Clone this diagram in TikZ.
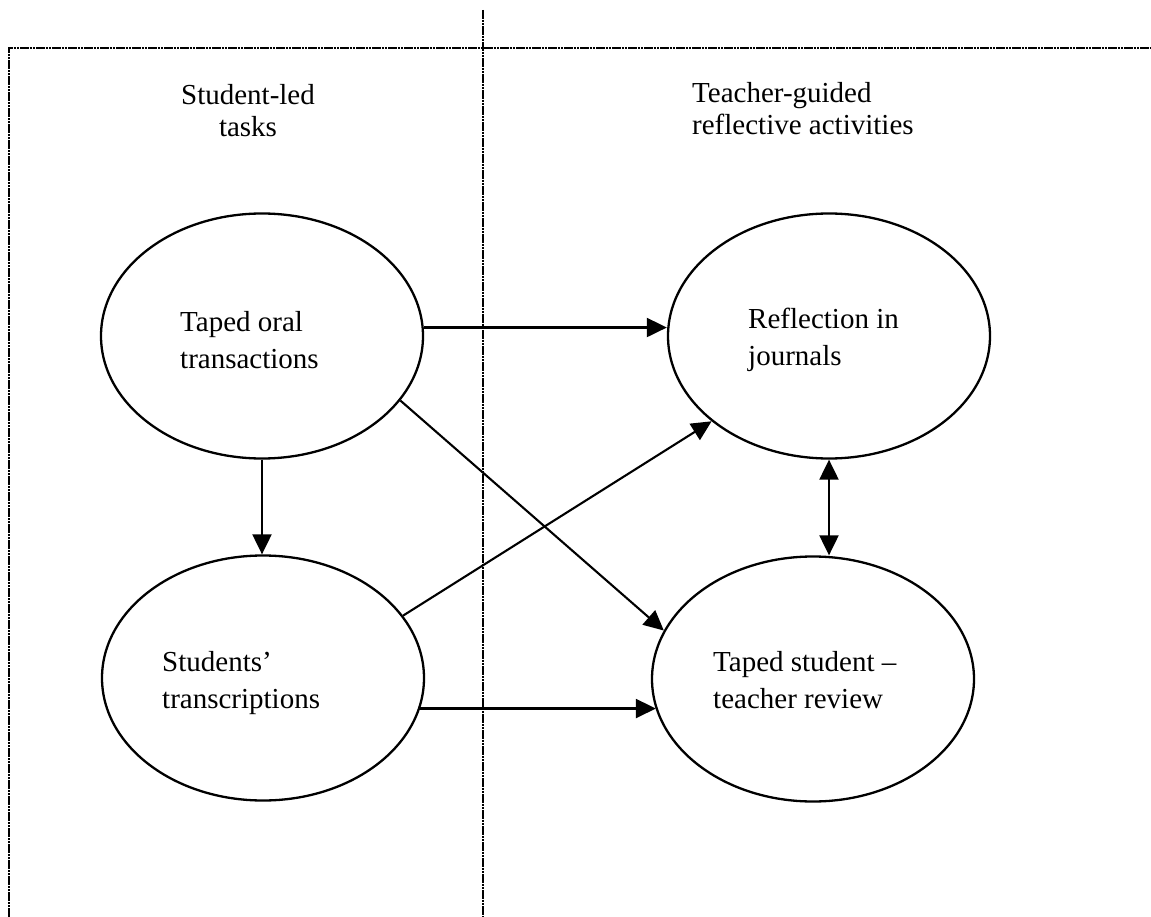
\documentclass[tikz,border=0pt]{standalone}
\usepackage{fontspec}
\setmainfont{Liberation Serif}
\usetikzlibrary{shapes.geometric,arrows.meta}
\begin{document}
\begin{tikzpicture}[x=1pt,y=-1pt,
  bubble/.style={draw,ellipse,line width=2.3pt,minimum width=322pt,minimum height=245pt,inner sep=0pt},
  lbl/.style={inner sep=0pt,align=left,font=\fontsize{29}{36.5}\selectfont},
  head/.style={inner sep=0pt,font=\fontsize{29}{32.5}\selectfont},
  link/.style={line width=2.1pt,-{Triangle[length=20pt,width=19pt]}},
  both/.style={line width=2.1pt,{Triangle[length=20pt,width=19pt]}-{Triangle[length=20pt,width=19pt]}},
  frame/.style={line width=2.3pt,dash pattern=on 2.6pt off 0.6pt}]
\useasboundingbox (0,0) rectangle (1151,917);
% frame
\coordinate (fl) at (9,917);
\coordinate (ftl) at (9,48);
\coordinate (ftr) at (1151,48);
\coordinate (dt) at (483,10);
\coordinate (db) at (483,917);
\draw[frame] (fl) -- (ftl) -- (ftr);
\draw[frame] (dt) -- (db);
% headings
\node[head,align=center,anchor=base] (h1) at (248,137) {Student-led\\tasks};
\node[head,align=left,anchor=base west] (h2) at (692,135) {Teacher-guided\\reflective activities};
% ellipses
\node[bubble] (e1) at (262,336) {};
\node[bubble] (e2) at (263,678) {};
\node[bubble] (e3) at (829,336) {};
\node[bubble] (e4) at (813,679) {};
% labels
\node[lbl,anchor=base west] (t1) at (180,368) {Taped oral\\transactions};
\node[lbl,anchor=base west] (t2) at (162,708) {Students’\\transcriptions};
\node[lbl,anchor=base west] (t3) at (748,365) {Reflection in\\journals};
\node[lbl,anchor=base west] (t4) at (713,708) {Taped student –\\teacher review};
% connectors
\draw[link] (e1.3) -- (e1.3 -| e3.west);
\draw[link] (e1.south) -- (e1.south |- e2.north);
\draw[link] (e1.-25) -- (e4.162);
\draw[link] (e2.24) -- (e3.216);
\draw[link] (e2.-11) -- (e2.-11 -| e4.191);
\draw[both] (e3.south) -- (e3.south |- e4.north);
\end{tikzpicture}
\end{document}
